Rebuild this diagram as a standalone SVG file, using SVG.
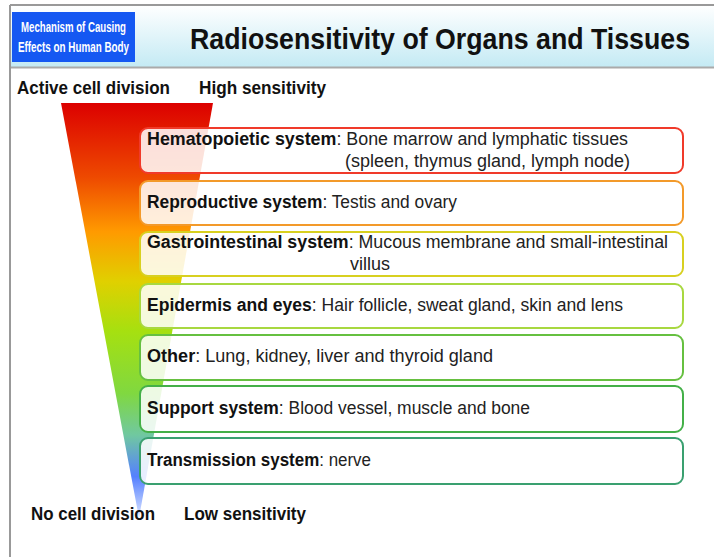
<svg xmlns="http://www.w3.org/2000/svg" width="714" height="557" viewBox="0 0 714 557">
<defs>
<linearGradient id="hdr" x1="0" y1="0" x2="0" y2="1">
<stop offset="0" stop-color="#ffffff"/>
<stop offset="1" stop-color="#c4eaf4"/>
</linearGradient>
<linearGradient id="tri" gradientUnits="userSpaceOnUse" x1="0" y1="103" x2="0" y2="518">
<stop offset="0" stop-color="#dc0000"/>
<stop offset="0.18" stop-color="#ee4a00"/>
<stop offset="0.31" stop-color="#ff9a00"/>
<stop offset="0.43" stop-color="#e0d000"/>
<stop offset="0.55" stop-color="#a6e010"/>
<stop offset="0.7" stop-color="#80d840"/>
<stop offset="0.8" stop-color="#70c8a0"/>
<stop offset="0.9" stop-color="#5580ff"/>
<stop offset="1" stop-color="#dde6ff"/>
</linearGradient>
<style>
.t{font-family:"Liberation Sans",Arial,sans-serif;font-size:17.5px;fill:#222}
.b{font-weight:bold;fill:#111}
.lbl{font-family:"Liberation Sans",Arial,sans-serif;font-size:17.5px;font-weight:bold;fill:#111}
.box{fill:#ffffff;fill-opacity:0.86;stroke-width:2}
</style>
</defs>
<rect x="0" y="0" width="714" height="557" fill="#ffffff"/>
<g id="header">
<rect x="10" y="5" width="704" height="62" fill="url(#hdr)"/>
<line x1="10" y1="5" x2="714" y2="5" stroke="#999" stroke-width="2"/>
<line x1="10" y1="67.5" x2="714" y2="67.5" stroke="#aaa" stroke-width="2"/>
<line x1="10" y1="5" x2="10" y2="557" stroke="#999" stroke-width="2"/>
<rect x="12" y="12" width="123" height="50" fill="#1558f2"/>
<text x="73.5" y="32" text-anchor="middle" font-family="Liberation Sans,Arial,sans-serif" font-size="14" font-weight="bold" fill="#ffffff" textLength="105" lengthAdjust="spacingAndGlyphs">Mechanism of Causing</text>
<text x="73.5" y="52" text-anchor="middle" font-family="Liberation Sans,Arial,sans-serif" font-size="14" font-weight="bold" fill="#ffffff" textLength="111" lengthAdjust="spacingAndGlyphs">Effects on Human Body</text>
<text x="190" y="49" font-family="Liberation Sans,Arial,sans-serif" font-size="29.5" font-weight="bold" fill="#111" textLength="500" lengthAdjust="spacingAndGlyphs">Radiosensitivity of Organs and Tissues</text>
</g>
<g id="scale">
<polygon points="61,103 213,103 139,518" fill="url(#tri)"/>
<text class="lbl" x="17" y="94" textLength="153" lengthAdjust="spacingAndGlyphs">Active cell division</text>
<text class="lbl" x="199" y="94" textLength="127" lengthAdjust="spacingAndGlyphs">High sensitivity</text>
<text class="lbl" x="31" y="520" textLength="124" lengthAdjust="spacingAndGlyphs">No cell division</text>
<text class="lbl" x="184" y="520" textLength="122" lengthAdjust="spacingAndGlyphs">Low sensitivity</text>
</g>
<g id="hematopoietic">
<rect class="box" x="140" y="128" width="543" height="45" rx="8" stroke="#f03a2a"/>
<text class="t" x="147" y="145" textLength="481" lengthAdjust="spacingAndGlyphs"><tspan class="b">Hematopoietic system</tspan>: Bone marrow and lymphatic tissues</text>
<text class="t" x="345" y="167" textLength="285" lengthAdjust="spacingAndGlyphs">(spleen, thymus gland, lymph node)</text>
</g>
<g id="reproductive">
<rect class="box" x="140" y="181" width="543" height="44" rx="8" stroke="#f39a2a"/>
<text class="t" x="147" y="208" textLength="310" lengthAdjust="spacingAndGlyphs"><tspan class="b">Reproductive system</tspan>: Testis and ovary</text>
</g>
<g id="gastrointestinal">
<rect class="box" x="140" y="232" width="543" height="44" rx="8" stroke="#d8d020"/>
<text class="t" x="147" y="248" textLength="521" lengthAdjust="spacingAndGlyphs"><tspan class="b">Gastrointestinal system</tspan>: Mucous membrane and small-intestinal</text>
<text class="t" x="350" y="270" textLength="40" lengthAdjust="spacingAndGlyphs">villus</text>
</g>
<g id="epidermis">
<rect class="box" x="140" y="284" width="543" height="44" rx="8" stroke="#a8d840"/>
<text class="t" x="147" y="311" textLength="476" lengthAdjust="spacingAndGlyphs"><tspan class="b">Epidermis and eyes</tspan>: Hair follicle, sweat gland, skin and lens</text>
</g>
<g id="other">
<rect class="box" x="140" y="335" width="543" height="45" rx="8" stroke="#66c040"/>
<text class="t" x="147" y="362" textLength="346" lengthAdjust="spacingAndGlyphs"><tspan class="b">Other</tspan>: Lung, kidney, liver and thyroid gland</text>
</g>
<g id="support">
<rect class="box" x="140" y="386" width="543" height="46" rx="8" stroke="#44b048"/>
<text class="t" x="147" y="414" textLength="383" lengthAdjust="spacingAndGlyphs"><tspan class="b">Support system</tspan>: Blood vessel, muscle and bone</text>
</g>
<g id="transmission">
<rect class="box" x="140" y="438" width="543" height="46" rx="8" stroke="#3aa070"/>
<text class="t" x="147" y="466" textLength="224" lengthAdjust="spacingAndGlyphs"><tspan class="b">Transmission system</tspan>: nerve</text>
</g>
<g id="connectors"/>
</svg>
